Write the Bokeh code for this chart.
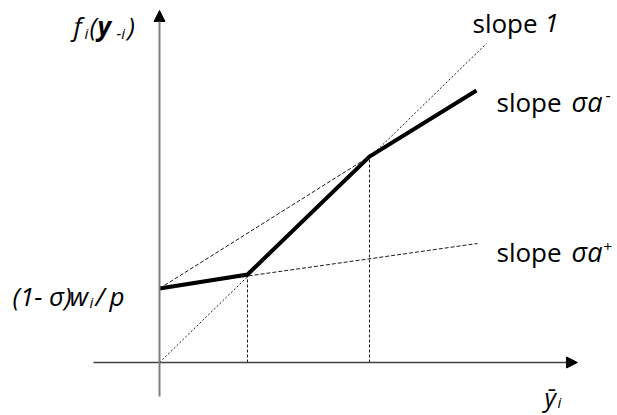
from bokeh.plotting import figure
from bokeh.models import Range1d, Arrow, NormalHead
from bokeh.core.properties import value
from bokeh.embed import file_html
from bokeh.resources import INLINE

# ---- data (abstract units) ----
kinked_x = [0.0, 0.88, 2.10, 3.17]          # best-response curve
kinked_y = [0.74, 0.88, 2.06, 2.72]
slope1_x = [0.0, 3.27]                        # 45-degree line
slope1_y = [0.0, 3.19]
aplus_x = [0.0, 3.18]                         # slope sigma a+ line
aplus_y = [0.74, 1.19]
aminus_x = [0.0, 2.10]                        # slope sigma a- line (extended back)
aminus_y = [0.74, 2.06]
drop_x = [0.88, 2.10]                         # vertical guides at the kinks
drop_top = [0.88, 2.06]
xaxis_span = [-0.66, 4.18]
yaxis_span = [-0.34, 3.52]

FONT = "Open Sans"
OX, OY, S = 159, 362, 100.0   # canvas-pixel origin and pixels per unit (for label placement)
W, H = 617, 415

p = figure(width=W, height=H, output_backend="svg", toolbar_location=None,
           x_range=Range1d(-OX / S, (W - OX) / S), y_range=Range1d((OY - H) / S, OY / S),
           x_axis_type=None, y_axis_type=None, min_border=0)
p.grid.visible = False
p.outline_line_color = None
p.background_fill_color = "white"

# axes with arrow heads
p.add_layout(Arrow(x_start=xaxis_span[0], y_start=0, x_end=xaxis_span[1], y_end=0,
                   line_color="#404040", line_width=1.3,
                   end=NormalHead(size=11, fill_color="black", line_color="black", line_width=1)))
p.add_layout(Arrow(x_start=0, y_start=yaxis_span[0], x_end=0, y_end=yaxis_span[1],
                   line_color="#808080", line_width=2,
                   end=NormalHead(size=11, fill_color="black", line_color="black", line_width=1)))

# dashed guide lines
GUIDE = "#1a1a1a"
p.line(slope1_x, slope1_y, line_color=GUIDE, line_width=1, line_dash="2 2")
p.line(aplus_x, aplus_y, line_color=GUIDE, line_width=1, line_dash="4 2")
p.line(aminus_x, aminus_y, line_color=GUIDE, line_width=1, line_dash="4 2")
p.segment(x0=drop_x, y0=[0, 0], x1=drop_x, y1=drop_top, line_color=GUIDE,
          line_width=1, line_dash="3 2")

# kinked curve
p.line(kinked_x, kinked_y, line_color="black", line_width=4, line_join="miter")


def piece(txt, X, Y, size=26, style="normal"):
    p.text(x=[(X - OX) / S], y=[(OY - Y) / S], text=[txt],
           text_font=value(FONT), text_font_size=f"{size}px", text_font_style=style,
           text_baseline="alphabetic", text_align="left", text_color="black")


# f_i(y_-i)
piece("f", 73, 25, style="italic")
piece("i", 84, 32, 15, "italic")
piece("(", 89, 25, style="italic")
piece("y", 97, 25, style="bold italic")
piece("-i", 116, 32, 15, "italic")
piece(")", 127, 25, style="italic")

# slope 1
piece("slope ", 472, 22)
piece("1", 544, 22, style="italic")

# slope σa-
piece("slope ", 496, 101)
piece("σa", 571, 101, 27, "italic")
piece("-", 605, 94, 16)

# slope σa+
piece("slope ", 496, 251)
piece("σa", 571, 251, 27, "italic")
piece("+", 603, 246, 15)

# (1- σ)w_i/p
piece("(1- σ)", 12, 295, style="italic")
piece("w", 69, 295, style="italic")
piece("i", 89, 301, 15, "italic")
piece("/", 95, 295, style="italic")
piece("p", 109, 295, style="italic")

# ȳ_i
piece("ȳ", 544, 396, 25, "italic")
piece("i", 557, 401, 15, "italic")

open("out.html", "w").write(file_html(p, INLINE))
